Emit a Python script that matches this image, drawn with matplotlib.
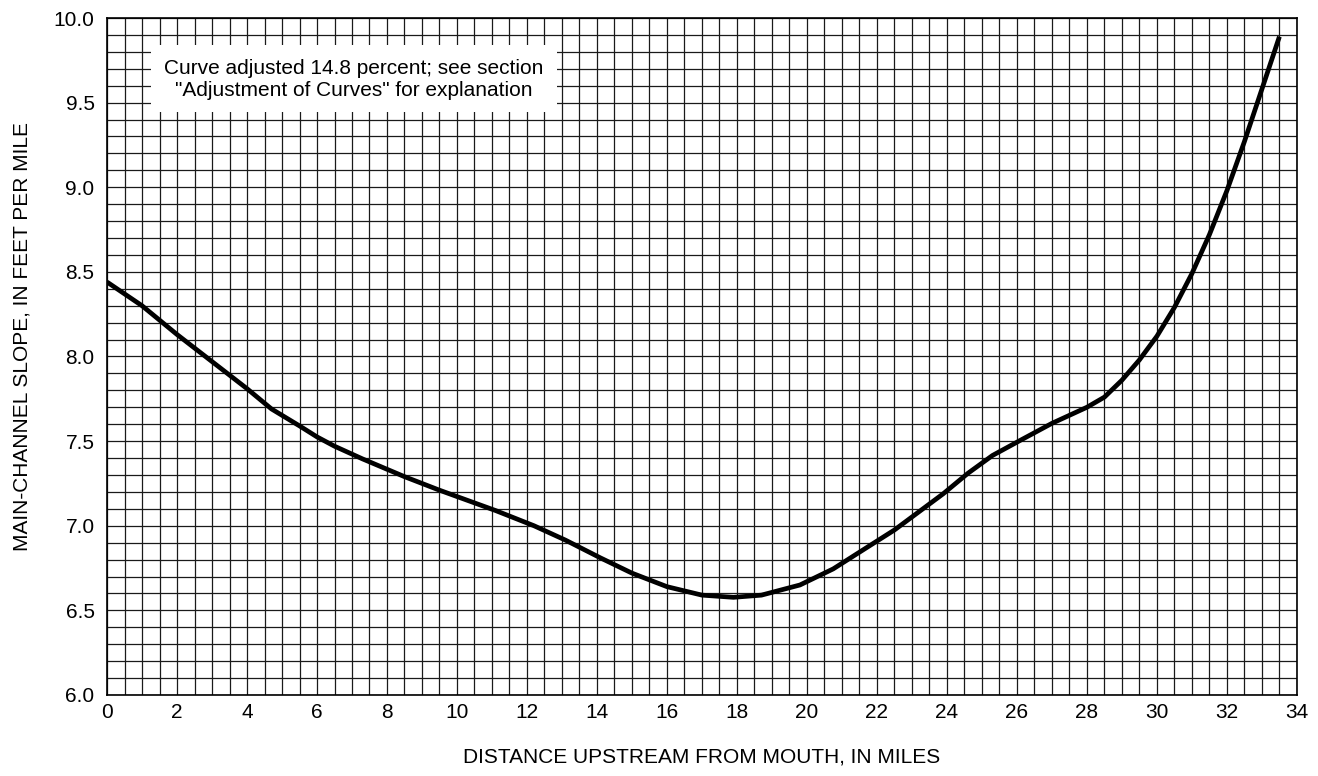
import matplotlib.pyplot as plt
from matplotlib.patches import Rectangle
from matplotlib.ticker import MultipleLocator

plt.rcParams['font.family'] = ['Liberation Sans', 'DejaVu Sans']

# distance upstream (miles) and main-channel slope (ft/mile)
distance = [0, 1, 2, 2.5, 4, 4.7, 5.5, 6, 6.5, 7.3, 8.5, 9.5, 11.1, 12.2, 13.1, 14.1,
            15, 16, 17, 17.9, 18.7, 19.8, 20.75, 21.7, 22.5, 23.9, 24.6, 25.3,
            26.1, 27, 28, 28.5, 29, 29.5, 30, 30.5, 31, 31.5, 32, 32.5, 33, 33.5]
slope = [8.44, 8.30, 8.13, 8.05, 7.81, 7.69, 7.59, 7.525, 7.47, 7.395, 7.29, 7.21,
         7.09, 7.00, 6.915, 6.81, 6.72, 6.64, 6.59, 6.577, 6.59, 6.65, 6.745, 6.87,
         6.975, 7.19, 7.31, 7.415, 7.505, 7.605, 7.70, 7.76, 7.86, 7.98, 8.12,
         8.29, 8.49, 8.72, 8.98, 9.27, 9.58, 9.89]

note = 'Curve adjusted 14.8 percent; see section\n"Adjustment of Curves" for explanation'

fig = plt.figure(figsize=(13.18, 7.76), dpi=100)
ax = fig.add_axes([0.0812, 0.1044, 0.9028, 0.8724])

ax.set_xlim(0, 34)
ax.set_ylim(6.0, 10.0)
ax.xaxis.set_major_locator(MultipleLocator(2))
ax.xaxis.set_minor_locator(MultipleLocator(0.5))
ax.yaxis.set_major_locator(MultipleLocator(0.5))
ax.yaxis.set_minor_locator(MultipleLocator(0.1))
ax.yaxis.set_major_formatter(lambda v, p: f'{v:.1f}')

# graph-paper grid
ax.grid(which='both', color='#1a1a1a', linewidth=0.9)
ax.set_axisbelow(True)
ax.tick_params(which='both', length=0, labelsize=15, colors='black')
ax.tick_params(axis='y', pad=9)
ax.tick_params(axis='x', pad=6)
for s in ax.spines.values():
    s.set_linewidth(1.2)
    s.set_color('black')

ax.plot(distance, slope, color='black', linewidth=3.4,
        solid_joinstyle='round', solid_capstyle='butt', zorder=3)

# white patch behind the note
ax.add_patch(Rectangle((1.27, 9.445), 11.58, 0.395, facecolor='white',
                       edgecolor='none', zorder=2))
ax.text(7.06, 9.634, note, ha='center', va='center', fontsize=15,
        linespacing=1.2, zorder=4)

ax.set_xlabel('DISTANCE UPSTREAM FROM MOUTH, IN MILES', fontsize=15, va='center')
ax.xaxis.set_label_coords(0.5, -0.0916)
ax.set_ylabel('MAIN-CHANNEL SLOPE, IN FEET PER MILE', fontsize=15, va='center')
ax.yaxis.set_label_coords(-0.0718, 0.53)

fig.savefig('out.png', dpi=100)
